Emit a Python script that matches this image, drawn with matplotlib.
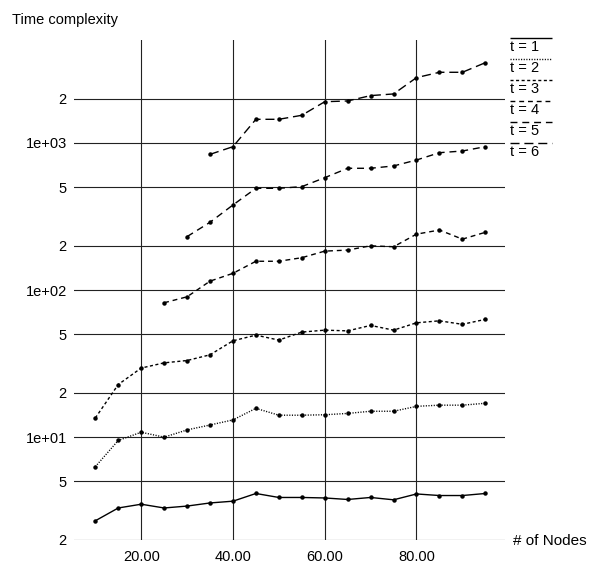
import matplotlib
matplotlib.use("Agg")
import matplotlib.pyplot as plt
from matplotlib.lines import Line2D
import numpy as np

plt.rcParams['font.family'] = ['Liberation Sans', 'DejaVu Sans']

# number of nodes
nodes = [10, 15, 20, 25, 30, 35, 40, 45, 50, 55, 60, 65, 70, 75, 80, 85, 90, 95]

# time complexity per t
t1 = [2.70, 3.30, 3.50, 3.30, 3.40, 3.57, 3.67, 4.14, 3.89, 3.89, 3.86,
      3.77, 3.89, 3.75, 4.11, 4.01, 4.01, 4.14]
t2 = [6.3, 9.5, 10.8, 10.0, 11.2, 12.1, 13.1, 15.7, 14.1, 14.1, 14.2,
      14.5, 15.0, 15.0, 16.2, 16.5, 16.5, 17.0]
t3 = [13.5, 22.8, 29.5, 32.0, 33.2, 36.3, 45.2, 49.4, 45.7, 51.8, 53.4,
      52.8, 57.5, 53.4, 59.9, 61.8, 58.5, 63.2]
t4 = [82, 90, 115, 130, 157, 157, 166, 184, 187, 200, 197, 240, 256, 222, 247]
t5 = [231, 289, 379, 492, 492, 505, 581, 673, 673, 698, 766, 859, 882, 944]
t6 = [837, 944, 1449, 1449, 1543, 1908, 1931, 2100, 2155, 2782, 3025, 3025, 3515]

series = [t1, t2, t3, t4, t5, t6]
labels = ["t = 1", "t = 2", "t = 3", "t = 4", "t = 5", "t = 6"]
styles = [(0, ()), (0, (0.8, 1.1)), (0, (2.2, 1.8)), (0, (3.5, 2.8)),
          (0, (5, 3.5)), (0, (6.5, 3.5))]

yticks = [2, 5, 10, 20, 50, 100, 200, 500, 1000, 2000]
ylabels = ["2", "5", "1e+01", "2", "5", "1e+02", "2", "5", "1e+03", "2"]
xticks = [20, 40, 60, 80]

fig = plt.figure(figsize=(5.9, 5.66), dpi=100)
ax = fig.add_axes([0.125, 0.046, 0.731, 0.883])

for ys, ls in zip(series, styles):
    xs = nodes[len(nodes) - len(ys):]
    ax.plot(xs, ys, color="black", lw=1.0, linestyle=ls,
            marker="o", markersize=2.2, zorder=3)

ax.set_yscale("log")
ax.set_xlim(5.3, 99.3)
ax.set_ylim(2, 5000)
ax.set_yticks(yticks)
ax.set_yticklabels(ylabels)
ax.yaxis.set_minor_locator(matplotlib.ticker.NullLocator())
ax.set_xticks(xticks)
ax.set_xticklabels(["%.2f" % v for v in xticks])
ax.tick_params(length=0, labelsize=10.5, pad=5)
ax.tick_params(axis="x", pad=7)
ax.grid(True, color="#222222", lw=0.8)
for s in ax.spines.values():
    s.set_visible(False)

fig.text(12 / 590, 1 - 20 / 566, "Time complexity", fontsize=10.5, va="center")
fig.text(513 / 590, 1 - 541 / 566, "# of Nodes", fontsize=11, va="center")

# legend: line drawn over each label
for i, (lab, ls) in enumerate(zip(labels, styles)):
    ytop = 1 - (38 + 21 * i) / 566
    fig.add_artist(Line2D([510 / 590, 552 / 590], [ytop, ytop], color="black",
                          lw=1.0, linestyle=ls, transform=fig.transFigure))
    fig.text(510 / 590, ytop - 2 / 566, lab, fontsize=10.5, va="top")

fig.savefig("out.png", dpi=100)
